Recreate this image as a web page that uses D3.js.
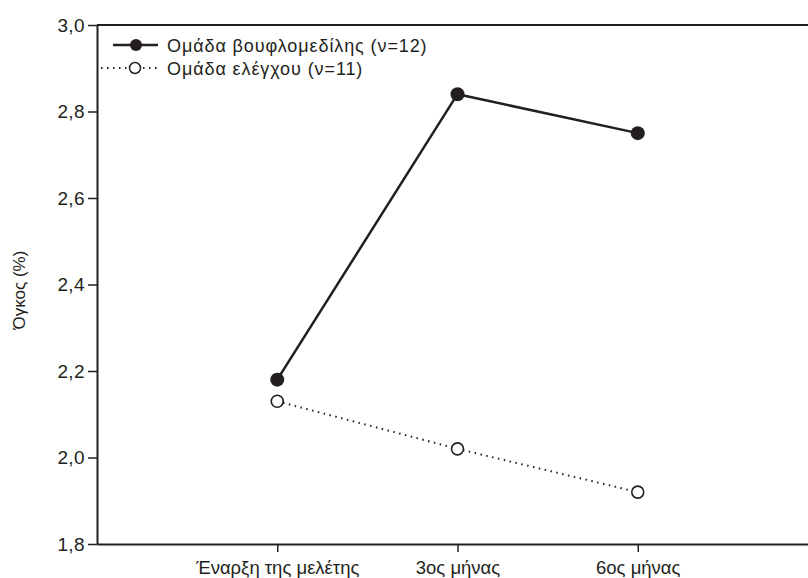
<!DOCTYPE html>
<html><head><meta charset="utf-8">
<script src="https://cdn.jsdelivr.net/npm/d3@7"></script>
<style>body{margin:0;background:#fff}text{font-family:"Liberation Sans",Arial,sans-serif;fill:#231f20}</style>
</head><body><svg id="c" width="808" height="578"></svg>
<script>
const categories = ["Έναρξη της μελέτης", "3ος μήνας", "6ος μήνας"];
const treatmentValues = [2.18, 2.84, 2.75];
const controlValues = [2.13, 2.02, 1.92];
const yTicks = [1.8, 2.0, 2.2, 2.4, 2.6, 2.8, 3.0];
const seriesNames = ["Ομάδα βουφλομεδίλης (ν=12)", "Ομάδα ελέγχου (ν=11)"];
const yLabel = "Όγκος (%)";

(function () {
const ink = "#231f20";
const svg = d3.select("#c");
const mLeft = 97, mRight = 818, mTop = 25, mBottom = 544;
const x = d3.scalePoint().domain(categories).range([mLeft, mRight]).padding(1);
const y = d3.scaleLinear().domain([1.8, 3.0]).range([mBottom, mTop]);

// top border
svg.append("line").attr("x1", mLeft).attr("x2", 808).attr("y1", mTop).attr("y2", mTop)
  .attr("stroke", ink).attr("stroke-width", 2);

const yAxis = svg.append("g").attr("transform", `translate(${mLeft},0)`)
  .call(d3.axisLeft(y).tickValues(yTicks).tickSize(9).tickSizeOuter(0)
    .tickFormat(d => d3.format(".1f")(d).replace(".", ",")));
yAxis.select(".domain").attr("stroke", ink).attr("stroke-width", 2);
yAxis.selectAll(".tick line").attr("stroke", ink).attr("stroke-width", 1.5);
yAxis.selectAll(".tick text").attr("font-size", 19).attr("x", -12).attr("fill", ink)
  .attr("letter-spacing", 0.4);

const xAxis = svg.append("g").attr("transform", `translate(0,${mBottom})`)
  .call(d3.axisBottom(x).tickSize(8).tickSizeOuter(0));
xAxis.select(".domain").attr("stroke", ink).attr("stroke-width", 2);
xAxis.selectAll(".tick line").attr("stroke", ink).attr("stroke-width", 1.5);
xAxis.selectAll(".tick text").attr("font-size", 18.5).attr("y", 17).attr("fill", ink);

svg.append("text").attr("transform", "translate(25,290) rotate(-90)")
  .attr("text-anchor", "middle").attr("font-size", 17).text(yLabel);

const line = d3.line().x((d, i) => x(categories[i])).y(d => y(d));

svg.append("path").datum(controlValues).attr("d", line).attr("fill", "none")
  .attr("stroke", ink).attr("stroke-width", 2).attr("stroke-dasharray", "1.5 4.5");
svg.append("path").datum(treatmentValues).attr("d", line).attr("fill", "none")
  .attr("stroke", ink).attr("stroke-width", 2.5);

svg.selectAll(".ctl").data(controlValues).enter().append("circle")
  .attr("cx", (d, i) => x(categories[i])).attr("cy", d => y(d)).attr("r", 6)
  .attr("fill", "#fff").attr("stroke", ink).attr("stroke-width", 1.6);
svg.selectAll(".trt").data(treatmentValues).enter().append("circle")
  .attr("cx", (d, i) => x(categories[i])).attr("cy", d => y(d)).attr("r", 7)
  .attr("fill", ink);

// legend
const lg = svg.append("g");
lg.append("line").attr("x1", 113).attr("x2", 158).attr("y1", 45).attr("y2", 45)
  .attr("stroke", ink).attr("stroke-width", 2.5);
lg.append("circle").attr("cx", 136).attr("cy", 45).attr("r", 6).attr("fill", ink);
lg.append("text").attr("x", 167).attr("y", 51.5).attr("font-size", 18)
  .attr("letter-spacing", 0.9).text(seriesNames[0]);
lg.append("line").attr("x1", 101).attr("x2", 158).attr("y1", 68).attr("y2", 68)
  .attr("stroke", ink).attr("stroke-width", 2).attr("stroke-dasharray", "1.5 4.5");
lg.append("circle").attr("cx", 135).attr("cy", 68).attr("r", 5.5)
  .attr("fill", "#fff").attr("stroke", ink).attr("stroke-width", 1.5);
lg.append("text").attr("x", 167).attr("y", 74.5).attr("font-size", 18)
  .attr("letter-spacing", 0.9).text(seriesNames[1]);
})();
</script></body></html>
